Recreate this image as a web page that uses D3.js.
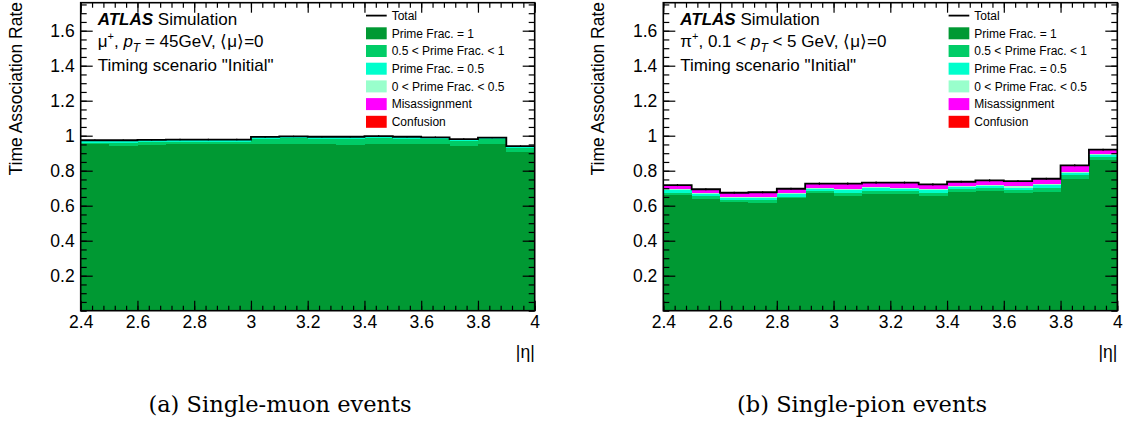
<!DOCTYPE html>
<html><head><meta charset="utf-8">
<script src="https://cdn.jsdelivr.net/npm/d3@7"></script>
<style>body{margin:0;background:#fff}svg{display:block}</style>
</head><body>
<svg id="c" width="1130" height="428"></svg>
<script>
// ---------- data ----------
const binEdges = [2.4,2.5,2.6,2.7,2.8,2.9,3.0,3.1,3.2,3.3,3.4,3.5,3.6,3.7,3.8,3.9,4.0];
const xTickValues = [2.4,2.6,2.8,3.0,3.2,3.4,3.6,3.8,4.0];
const xTickLabels = ["2.4","2.6","2.8","3","3.2","3.4","3.6","3.8","4"];
const yTickValues = [0.2,0.4,0.6,0.8,1.0,1.2,1.4,1.6];
const yTickLabels = ["0.2","0.4","0.6","0.8","1","1.2","1.4","1.6"];
const componentNames = ["Prime Frac. = 1","0.5 < Prime Frac. < 1","Prime Frac. = 0.5","0 < Prime Frac. < 0.5","Misassignment","Confusion"];
const componentKeys = ["pf1","pfHigh","pfHalf","pfLow","mis","conf"];

// (a) single muon
const muPrime1   = [0.954,0.941,0.949,0.951,0.951,0.951,0.951,0.951,0.951,0.947,0.954,0.951,0.954,0.939,0.951,0.905];
const muPrimeHi  = [0.007,0.018,0.013,0.013,0.013,0.013,0.032,0.035,0.033,0.037,0.034,0.033,0.027,0.032,0.028,0.024];
const muPrimeHalf= [0.011,0.013,0.012,0.012,0.012,0.012,0.008,0.008,0.008,0.008,0.008,0.008,0.008,0.008,0.008,0.010];
const muPrimeLow = [0.002,0.002,0.002,0.002,0.002,0.002,0.002,0.002,0.002,0.002,0.002,0.002,0.002,0.002,0.002,0.002];
const muMis      = [0,0,0,0,0,0,0,0,0,0,0,0,0,0,0,0];
const muConf     = [0,0,0,0,0,0,0,0,0,0,0,0,0,0,0,0];
const muTotalErr = [0.004,0.004,0.004,0.004,0.004,0.004,0.004,0.004,0.004,0.004,0.004,0.004,0.004,0.004,0.004,0.004];

// (b) single pion
const piPrime1   = [0.660,0.640,0.620,0.616,0.642,0.671,0.657,0.669,0.667,0.657,0.677,0.684,0.671,0.680,0.753,0.863];
const piPrimeHi  = [0.015,0.013,0.012,0.014,0.010,0.012,0.016,0.015,0.017,0.017,0.016,0.015,0.019,0.022,0.021,0.013];
const piPrimeHalf= [0.014,0.014,0.014,0.016,0.013,0.012,0.014,0.015,0.013,0.014,0.012,0.012,0.014,0.014,0.014,0.013];
const piPrimeLow = [0.006,0.005,0.005,0.006,0.006,0.005,0.006,0.006,0.006,0.006,0.006,0.006,0.006,0.006,0.006,0.006];
const piMis      = [0.022,0.021,0.022,0.024,0.025,0.025,0.032,0.026,0.028,0.027,0.025,0.027,0.030,0.031,0.036,0.024];
const piConf     = [0.001,0.001,0.001,0.001,0.001,0.001,0.001,0.001,0.001,0.001,0.001,0.001,0.001,0.001,0.001,0.001];
const piTotalErr = [0.006,0.006,0.006,0.006,0.006,0.006,0.006,0.006,0.006,0.006,0.006,0.006,0.006,0.006,0.006,0.006];

// ---------- style ----------
const colors = {pf1:"#009933", pfHigh:"#00cc66", pfHalf:"#00ffcc", pfLow:"#99ffcc", mis:"#ff00ff", conf:"#ff0000"};
const svg = d3.select("#c");
const FONT = "'Liberation Sans', Arial, Helvetica, sans-serif";

function panel(cfg){
  const x0 = cfg.left, x1 = cfg.left + 454, yTop = 2.7, yBot = 310.7;
  const x = d3.scaleLinear().domain([2.4,4.0]).range([x0,x1]);
  const y = d3.scaleLinear().domain([0,1.76]).range([yBot,yTop]);
  const g = svg.append("g");

  const rows = binEdges.slice(0,-1).map((lo,i)=>({lo, hi:binEdges[i+1],
    pf1:cfg.c[0][i], pfHigh:cfg.c[1][i], pfHalf:cfg.c[2][i], pfLow:cfg.c[3][i], mis:cfg.c[4][i], conf:cfg.c[5][i], err:cfg.err[i]}));
  const series = d3.stack().keys(componentKeys)(rows);

  const layers = g.append("g").attr("shape-rendering","crispEdges");
  series.forEach(s=>{
    layers.append("g").attr("fill",colors[s.key]).selectAll("rect").data(s).join("rect")
      .attr("x",d=>x(d.data.lo)).attr("width",d=>x(d.data.hi)-x(d.data.lo)+0.5)
      .attr("y",d=>y(d[1])).attr("height",d=>Math.max(0,y(d[0])-y(d[1])));
  });

  // total step line
  const totals = rows.map(r=>componentKeys.reduce((a,k)=>a+r[k],0));
  const pts = [];
  rows.forEach((r,i)=>{ pts.push([x(r.lo),y(totals[i])]); pts.push([x(r.hi),y(totals[i])]); });
  g.append("path").attr("d",d3.line()(pts)).attr("fill","none").attr("stroke","#000").attr("stroke-width",1.8);
  g.append("g").selectAll("line").data(rows).join("line")
    .attr("x1",(d)=>x((d.lo+d.hi)/2)).attr("x2",(d)=>x((d.lo+d.hi)/2))
    .attr("y1",(d,i)=>y(totals[i]+d.err)).attr("y2",(d,i)=>y(totals[i]-d.err))
    .attr("stroke","#000").attr("stroke-width",1.2);

  // axes
  const minorX = d3.range(2.4,4.0001,0.04);
  const minorY = d3.range(0,1.7501,0.05);
  const plain = a=>{ a.select(".domain").remove(); a.selectAll("line").attr("stroke-width",1.2); };
  g.append("g").attr("transform",`translate(0,${yBot})`)
    .call(d3.axisBottom(x).tickValues(minorX).tickSizeInner(-5).tickSizeOuter(0).tickFormat("")).call(plain);
  g.append("g").attr("transform",`translate(0,${yBot})`)
    .call(d3.axisBottom(x).tickValues(xTickValues).tickSizeInner(-10).tickSizeOuter(0).tickPadding(5)
      .tickFormat((d,i)=>xTickLabels[i]))
    .call(plain)
    .call(a=>a.selectAll("text").attr("font-family",FONT).attr("font-size",17.5).attr("fill","#000"));
  g.append("g").attr("transform",`translate(0,${yTop})`)
    .call(d3.axisTop(x).tickValues(minorX).tickSizeInner(-5).tickSizeOuter(0).tickFormat("")).call(plain);
  g.append("g").attr("transform",`translate(0,${yTop})`)
    .call(d3.axisTop(x).tickValues(xTickValues).tickSizeInner(-10).tickSizeOuter(0).tickFormat("")).call(plain);
  g.append("g").attr("transform",`translate(${x0},0)`)
    .call(d3.axisLeft(y).tickValues(minorY).tickSizeInner(-6).tickSizeOuter(0).tickFormat("")).call(plain);
  g.append("g").attr("transform",`translate(${x0},0)`)
    .call(d3.axisLeft(y).tickValues(yTickValues).tickSizeInner(-12).tickSizeOuter(0).tickPadding(6)
      .tickFormat((d,i)=>yTickLabels[i]))
    .call(plain)
    .call(a=>a.selectAll("text").attr("font-family",FONT).attr("font-size",17.5).attr("fill","#000"));
  g.append("g").attr("transform",`translate(${x1},0)`)
    .call(d3.axisRight(y).tickValues(minorY).tickSizeInner(-6).tickSizeOuter(0).tickFormat("")).call(plain);
  g.append("g").attr("transform",`translate(${x1},0)`)
    .call(d3.axisRight(y).tickValues(yTickValues).tickSizeInner(-12).tickSizeOuter(0).tickFormat("")).call(plain);
  g.append("rect").attr("x",x0).attr("y",yTop).attr("width",x1-x0).attr("height",yBot-yTop)
    .attr("fill","none").attr("stroke","#000").attr("stroke-width",1.6);

  // axis titles
  g.append("text").attr("transform",`translate(${x0-59},2) rotate(-90)`).attr("text-anchor","end")
    .attr("font-family",FONT).attr("font-size",17.5).text("Time Association Rate");
  g.append("text").attr("x",x1).attr("y",358).attr("text-anchor","end")
    .attr("font-family",FONT).attr("font-size",17.5).text("|η|");

  // ATLAS label
  const tx = x0 + 17;
  const t1 = g.append("text").attr("x",tx).attr("y",25).attr("font-family",FONT).attr("font-size",17);
  t1.append("tspan").attr("font-weight","bold").attr("font-style","italic").text("ATLAS");
  t1.append("tspan").text(" Simulation");
  const t2 = g.append("text").attr("x",tx).attr("y",47).attr("font-family",FONT).attr("font-size",17);
  cfg.line2(t2);
  g.append("text").attr("x",tx).attr("y",71).attr("font-family",FONT).attr("font-size",17).text('Timing scenario "Initial"');

  // legend
  const lx = x0 + 285.3, lt = x0 + 311, ly0 = 15.6, dy = 17.7;
  g.append("line").attr("x1",lx).attr("x2",lx+20.7).attr("y1",ly0).attr("y2",ly0).attr("stroke","#000").attr("stroke-width",1.8);
  g.append("text").attr("x",lt).attr("y",ly0).attr("dy","0.35em").attr("font-family",FONT).attr("font-size",12).text("Total");
  componentKeys.forEach((k,i)=>{
    const cy = ly0 + dy*(i+1);
    g.append("rect").attr("x",lx).attr("y",cy-6).attr("width",20.7).attr("height",12).attr("fill",colors[k]);
    g.append("text").attr("x",lt).attr("y",cy).attr("dy","0.35em").attr("font-family",FONT).attr("font-size",12).text(componentNames[i]);
  });

  // caption
  svg.append("text").attr("x",cfg.capX).attr("y",412).attr("text-anchor","middle")
    .attr("font-family","'DejaVu Serif', serif").attr("font-size",22.5).text(cfg.caption);
}

panel({left:80.7, c:[muPrime1,muPrimeHi,muPrimeHalf,muPrimeLow,muMis,muConf], err:muTotalErr,
  caption:"(a) Single-muon events", capX:280,
  line2:t=>{
    t.append("tspan").text("μ");
    t.append("tspan").attr("font-size",11).attr("dy",-7).text("+");
    t.append("tspan").attr("dy",7).text(", ");
    t.append("tspan").attr("font-style","italic").text("p");
    t.append("tspan").attr("font-style","italic").attr("font-size",12).attr("dy",5).text("T");
    t.append("tspan").attr("dy",-5).text(" = 45GeV, ⟨μ⟩=0");
  }});
panel({left:663.3, c:[piPrime1,piPrimeHi,piPrimeHalf,piPrimeLow,piMis,piConf], err:piTotalErr,
  caption:"(b) Single-pion events", capX:862,
  line2:t=>{
    t.append("tspan").text("π");
    t.append("tspan").attr("font-size",11).attr("dy",-7).text("+");
    t.append("tspan").attr("dy",7).text(", 0.1 < ");
    t.append("tspan").attr("font-style","italic").text("p");
    t.append("tspan").attr("font-style","italic").attr("font-size",12).attr("dy",5).text("T");
    t.append("tspan").attr("dy",-5).text(" < 5 GeV, ⟨μ⟩=0");
  }});
</script>
</body></html>
